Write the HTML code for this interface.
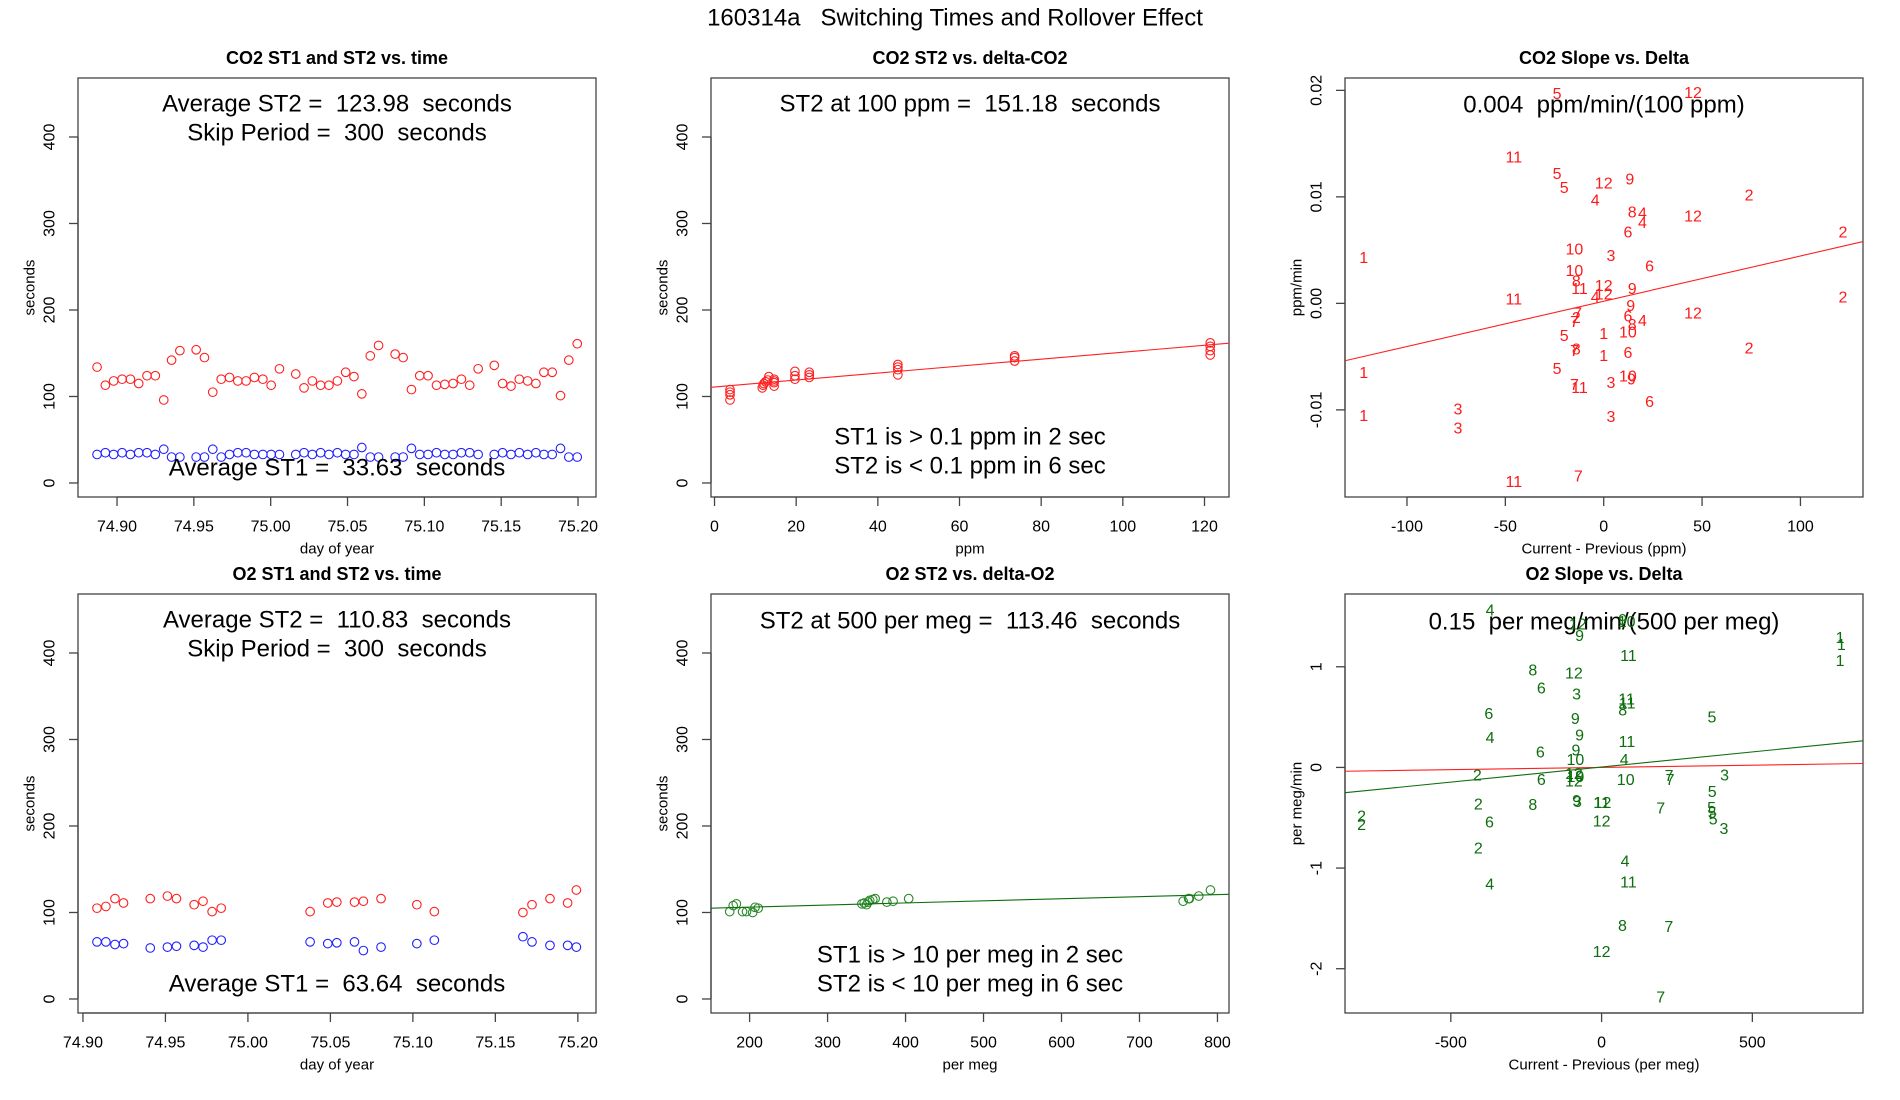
<!DOCTYPE html>
<html><head><meta charset="utf-8"><title>160314a Switching Times and Rollover Effect</title>
<style>
html,body{margin:0;padding:0;background:#fff;}
svg{display:block;font-family:"Liberation Sans",Arial,sans-serif;}
</style></head>
<body>
<svg id="fig" xmlns="http://www.w3.org/2000/svg" width="1900" height="1100" viewBox="0 0 1900 1100">
<rect x="0" y="0" width="1900" height="1100" fill="#fff"/>
<text x="955" y="18" font-size="24" text-anchor="middle" dominant-baseline="central" style="white-space:pre">160314a   Switching Times and Rollover Effect</text>
</svg>
<script>
// ---------- Panel 1: CO2 ST1/ST2 vs time ----------
const co2Times = [74.8870,74.8924,74.8978,74.9033,74.9087,74.9141,74.9195,74.9249,74.9304,74.9355,74.9409,74.9515,74.9569,74.9623,74.9678,74.9732,74.9786,74.9840,74.9894,74.9949,75.0003,75.0057,75.0163,75.0217,75.0271,75.0325,75.0379,75.0434,75.0488,75.0542,75.0593,75.0648,75.0702,75.0810,75.0862,75.0916,75.0970,75.1024,75.1079,75.1133,75.1187,75.1241,75.1295,75.1350,75.1455,75.1509,75.1564,75.1618,75.1672,75.1726,75.1778,75.1832,75.1886,75.1940,75.1995];
const co2ST2 = [134,113,118,120,120,115,124,124,96,142,153,154,145,105,120,122,118,118,122,120,113,132,126,110,118,113,113,118,128,123,103,147,159,149,145,108,124,124,113,114,115,120,113,132,136,115,112,120,118,115,128,128,101,142,161];
const co2ST1 = [33,35,33,35,33,35,35,33,39,30,30,30,30,39,30,33,35,35,33,33,33,33,33,35,33,35,33,35,33,33,41,30,30,30,30,40,33,33,35,33,33,35,35,33,33,35,33,35,33,35,33,33,40,30,30];
const timeTicks = [74.90,74.95,75.00,75.05,75.10,75.15,75.20];
const timeTickLabels = ["74.90","74.95","75.00","75.05","75.10","75.15","75.20"];
const secTicks = [0,100,200,300,400];
const secTickLabels = ["0","100","200","300","400"];

// ---------- Panel 2: CO2 ST2 vs delta ----------
const co2Delta = [3.8,3.8,3.8,3.8,11.7,11.9,12.1,12.5,13.3,13.0,14.6,14.6,14.6,14.6,19.7,19.7,19.7,23.2,23.2,23.2,44.9,44.9,44.9,44.9,73.5,73.5,73.5,121.4,121.4,121.4,121.4];
const co2DeltaST2 = [108,105,102,96,110,113,115,117,123,119,120,116,112,118,129,124,120,128,125,122,137,134,131,125,147,145,141,162,158,153,148];
const co2FitLine = [111.0, 0.4018]; // intercept, slope
const ppmTicks = [0,20,40,60,80,100,120];
const ppmTickLabels = ["0","20","40","60","80","100","120"];

// ---------- Panel 3: CO2 slope vs delta ----------
const co2SlopeX = [-23.7,45.4,-45.7,-23.7,-20.1,0,13.3,-4.3,73.9,14.5,19.7,19.7,45.4,12.3,121.6,-14.9,3.7,-122,23.3,-14.9,-13.9,-12.3,0,0,-4.3,14.5,-45.7,121.6,13.7,45.4,-13.3,-13.9,-14.9,12.3,19.7,14.5,12.3,0,-20.1,73.9,-14.9,-13.9,12.3,0,-23.7,-122,12.3,14.1,3.7,-14.9,-12.3,23.3,-122,-74.1,-74.1,3.7,-12.9,-45.7];
const co2SlopeY = [0.0196,0.0197,0.01365,0.0121,0.0108,0.0112,0.0116,0.0096,0.0101,0.0085,0.0084,0.0075,0.0081,0.0066,0.0066,0.0050,0.0044,0.0042,0.0034,0.0030,0.0020,0.0013,0.0016,0.0008,0.0005,0.0013,0.0003,0.0005,-0.0003,-0.0010,-0.0010,-0.0014,-0.0018,-0.0013,-0.0017,-0.0021,-0.0028,-0.0029,-0.0031,-0.0043,-0.0045,-0.0044,-0.0047,-0.0050,-0.0062,-0.0066,-0.0069,-0.0072,-0.0075,-0.0077,-0.0080,-0.0093,-0.0106,-0.0100,-0.0118,-0.0107,-0.0163,-0.0168];
const co2SlopeLabels = ["5","12","11","5","5","12","9","4","2","8","4","4","12","6","2","10","3","1","6","10","8","11","12","12","4","9","11","2","9","12","7","2","7","6","4","8","10","1","5","2","7","8","6","1","5","1","10","9","3","7","11","6","1","3","3","3","7","11"];
const co2SlopeFit = [0.0002, 0.0000425];
const dppmTicks = [-100,-50,0,50,100];
const dppmTickLabels = ["-100","-50","0","50","100"];
const slopeTicks = [-0.01,0,0.01,0.02];
const slopeTickLabels = ["-0.01","0.00","0.01","0.02"];

// ---------- Panel 4: O2 ST1/ST2 vs time ----------
const o2Times = [74.9085,74.9139,74.9194,74.9246,74.9408,74.9512,74.9567,74.9674,74.9728,74.9783,74.9838,75.0377,75.0484,75.0539,75.0646,75.0700,75.0807,75.1024,75.1130,75.1667,75.1722,75.1831,75.1938,75.1991];
const o2ST2 = [105,107,116,111,116,119,116,109,113,101,105,101,111,112,112,113,116,109,101,100,109,116,111,126];
const o2ST1 = [66,66,63,64,59,60,61,62,60,68,68,66,64,65,66,56,60,64,68,72,66,62,62,60];

// ---------- Panel 5: O2 ST2 vs delta ----------
const o2Delta = [174.5,179,183,191,196,204,207,211,344,347,350,352,354,358,361,376,384,404,756,763,764,776,791];
const o2DeltaST2 = [101,108,110,101,101,100,106,105,110,111,109,112,114,115,116,112,113,116,113,116,116,119,126];
const o2FitLine = [101.4, 0.0241];
const permegTicks = [200,300,400,500,600,700,800];
const permegTickLabels = ["200","300","400","500","600","700","800"];

// ---------- Panel 6: O2 slope vs delta ----------
const o2SlopeX = [-370,-79,-73,70,83,791,795,791,89,-228,-92,-200,-83,83,85,70,-374,-87,366,-370,-73,84,-203,-85,-87,75,-412,-92,-87,-92,-73,-200,80,224,227,408,367,-409,-228,-83,-80,0,3,196,365,367,370,406,-796,-796,-372,0,-409,78,-371,89,69,223,0,196];
const o2SlopeY = [1.555,1.415,1.30,1.46,1.44,1.28,1.21,1.05,1.10,0.96,0.93,0.78,0.72,0.67,0.63,0.56,0.525,0.475,0.49,0.286,0.31,0.25,0.143,0.163,0.07,0.07,-0.086,-0.07,-0.10,-0.146,-0.096,-0.13,-0.13,-0.09,-0.13,-0.083,-0.25,-0.372,-0.379,-0.34,-0.35,-0.36,-0.36,-0.415,-0.41,-0.46,-0.52,-0.615,-0.495,-0.578,-0.55,-0.54,-0.81,-0.94,-1.17,-1.15,-1.58,-1.59,-1.84,-2.29];
const o2SlopeLabels = ["4","12","9","9","10","1","1","1","11","8","12","6","3","11","11","8","6","9","5","4","9","11","6","9","10","4","2","12","10","12","9","6","10","7","7","3","5","2","8","9","3","11","12","7","5","5","5","3","2","2","6","12","2","4","4","11","8","7","12","7"];
const o2SlopeFit = [0.004, 0.0003];
const o2RedFit = [0.0, 0.0000448];
const dpmTicks = [-500,0,500];
const dpmTickLabels = ["-500","0","500"];
const pmSlopeTicks = [-2,-1,0,1];
const pmSlopeTickLabels = ["-2","-1","0","1"];

// ---------- drawing ----------
const NS = "http://www.w3.org/2000/svg";
const svg = document.getElementById("fig");
function el(tag, attrs, parent, txt){
  const e = document.createElementNS(NS, tag);
  for (const k in attrs) e.setAttribute(k, attrs[k]);
  if (txt !== undefined) e.textContent = txt;
  (parent || svg).appendChild(e);
  return e;
}
function scale(d0,d1,r0,r1){ return v => r0 + (v-d0)/(d1-d0)*(r1-r0); }

const RED="#ff2020", BLUE="#2020ff", GREEN="#0d6e0d", GREENPT="#2a8a2a";

function makePanel(name, box, xd, yd, title, xlab, ylab, xt, xtl, yt, ytl){
  const g = el("g", {}, svg);
  
  
  const [L,T,R,B] = box;
  const sx = scale(xd[0],xd[1],L,R), sy = scale(yd[0],yd[1],B,T);
  const t = el("text",{x:(L+R)/2,y:T-20,"font-size":18,"font-weight":"bold","text-anchor":"middle","dominant-baseline":"central"},g,title);
  
  
  const bx = el("rect",{x:L,y:T,width:R-L,height:B-T,fill:"none",stroke:"#444","stroke-width":1.3},g);
  
  
  const xa = el("g",{},g);
  
  
  el("line",{x1:sx(xt[0]),x2:sx(xt[xt.length-1]),y1:B,y2:B,stroke:"#444","stroke-width":1.3},xa);
  xt.forEach((v,i)=>{
    el("line",{x1:sx(v),x2:sx(v),y1:B,y2:B+9,stroke:"#444","stroke-width":1.3},xa);
    const l = el("text",{x:sx(v),y:B+30,"font-size":16,"text-anchor":"middle","dominant-baseline":"central"},xa,xtl[i]);
    
    
  });
  const ya = el("g",{},g);
  
  
  el("line",{x1:L,x2:L,y1:sy(yt[0]),y2:sy(yt[yt.length-1]),stroke:"#444","stroke-width":1.3},ya);
  yt.forEach((v,i)=>{
    el("line",{x1:L-9,x2:L,y1:sy(v),y2:sy(v),stroke:"#444","stroke-width":1.3},ya);
    const cx=L-28, cy=sy(v);
    const l = el("text",{x:cx,y:cy,"font-size":16,"text-anchor":"middle","dominant-baseline":"central",transform:`rotate(-90 ${cx} ${cy})`},ya,ytl[i]);
    
    
  });
  const xl = el("text",{x:(L+R)/2,y:B+52,"font-size":15,"text-anchor":"middle","dominant-baseline":"central"},g,xlab);
  
  
  const ycx=L-48, ycy=(T+B)/2;
  const yl = el("text",{x:ycx,y:ycy,"font-size":15,"text-anchor":"middle","dominant-baseline":"central",transform:`rotate(-90 ${ycx} ${ycy})`},g,ylab);
  
  
  return {g,sx,sy,L,T,R,B,xd,yd};
}
function note(p, y, txt, name){
  const n = el("text",{x:(p.L+p.R)/2,y:y,"font-size":24,"text-anchor":"middle","dominant-baseline":"central",style:"white-space:pre"},p.g,txt);
  
  
}
function circles(p, xs, ys, color, name){
  const g = el("g",{},p.g);
  
  
  xs.forEach((x,i)=>{
    const c = el("circle",{cx:p.sx(x),cy:p.sy(ys[i]),r:4.3,fill:"none",stroke:color,"stroke-width":1.1},g);
    
    
  });
}
function labels(p, xs, ys, ls, color, name){
  const g = el("g",{},p.g);
  
  
  xs.forEach((x,i)=>{
    const t = el("text",{x:p.sx(x),y:p.sy(ys[i]),"font-size":16,fill:color,"text-anchor":"middle","dominant-baseline":"central"},g,ls[i]);
    
    
  });
}
function fit(p, coef, color, name){
  const x0=p.xd[0], x1=p.xd[1];
  const l = el("line",{x1:p.sx(x0),y1:p.sy(coef[0]+coef[1]*x0),x2:p.sx(x1),y2:p.sy(coef[0]+coef[1]*x1),stroke:color,"stroke-width":1.1},p.g);
  
  
}

const C1=[78,596], C2=[711,1229], C3=[1345,1863];
const R1=[78,497], R2=[594,1013];
const secDom=[-16.2,468.2];

// Panel 1
const p1 = makePanel("co2-time-panel",[C1[0],R1[0],C1[1],R1[1]],[74.8746,75.2117],secDom,"CO2 ST1 and ST2 vs. time","day of year","seconds",timeTicks,timeTickLabels,secTicks,secTickLabels);
circles(p1, co2Times, co2ST2, RED, "co2-st2");
circles(p1, co2Times, co2ST1, BLUE, "co2-st1");
note(p1, 104, "Average ST2 =  123.98  seconds", "avg-st2-note");
note(p1, 133, "Skip Period =  300  seconds", "skip-period-note");
note(p1, 468, "Average ST1 =  33.63  seconds", "avg-st1-note");

// Panel 2
const p2 = makePanel("co2-delta-panel",[C2[0],R1[0],C2[1],R1[1]],[-0.86,126.0],secDom,"CO2 ST2 vs. delta-CO2","ppm","seconds",ppmTicks,ppmTickLabels,secTicks,secTickLabels);
circles(p2, co2Delta, co2DeltaST2, RED, "co2-delta-st2");
fit(p2, co2FitLine, "#ff2020", "co2-fit-line");
note(p2, 104, "ST2 at 100 ppm =  151.18  seconds", "st2-at-100-note");
note(p2, 437, "ST1 is > 0.1 ppm in 2 sec", "st1-threshold-note");
note(p2, 466, "ST2 is < 0.1 ppm in 6 sec", "st2-threshold-note");

// Panel 3
const p3 = makePanel("co2-slope-panel",[C3[0],R1[0],C3[1],R1[1]],[-131.5,131.8],[-0.01818,0.02116],"CO2 Slope vs. Delta","Current - Previous (ppm)","ppm/min",dppmTicks,dppmTickLabels,slopeTicks,slopeTickLabels);
fit(p3, co2SlopeFit, "#ff2020", "co2-slope-fit-line");
note(p3, 105, "0.004  ppm/min/(100 ppm)", "co2-slope-note");
labels(p3, co2SlopeX, co2SlopeY, co2SlopeLabels, "#ff1a1a", "co2-slope");

// Panel 4
const p4 = makePanel("o2-time-panel",[C1[0],R2[0],C1[1],R2[1]],[74.897,75.211],secDom,"O2 ST1 and ST2 vs. time","day of year","seconds",timeTicks,timeTickLabels,secTicks,secTickLabels);
circles(p4, o2Times, o2ST2, RED, "o2-st2");
circles(p4, o2Times, o2ST1, BLUE, "o2-st1");
note(p4, 620, "Average ST2 =  110.83  seconds", "o2-avg-st2-note");
note(p4, 649, "Skip Period =  300  seconds", "o2-skip-period-note");
note(p4, 984, "Average ST1 =  63.64  seconds", "o2-avg-st1-note");

// Panel 5
const p5 = makePanel("o2-delta-panel",[C2[0],R2[0],C2[1],R2[1]],[150.5,814.8],secDom,"O2 ST2 vs. delta-O2","per meg","seconds",permegTicks,permegTickLabels,secTicks,secTickLabels);
circles(p5, o2Delta, o2DeltaST2, GREENPT, "o2-delta-st2");
fit(p5, o2FitLine, GREEN, "o2-fit-line");
note(p5, 621, "ST2 at 500 per meg =  113.46  seconds", "st2-at-500-note");
note(p5, 955, "ST1 is > 10 per meg in 2 sec", "o2-st1-threshold-note");
note(p5, 984, "ST2 is < 10 per meg in 6 sec", "o2-st2-threshold-note");

// Panel 6
const p6 = makePanel("o2-slope-panel",[C3[0],R2[0],C3[1],R2[1]],[-851,867],[-2.44,1.723],"O2 Slope vs. Delta","Current - Previous (per meg)","per meg/min",dpmTicks,dpmTickLabels,pmSlopeTicks,pmSlopeTickLabels);
fit(p6, o2RedFit, "#ff2020", "o2-zero-line");
fit(p6, o2SlopeFit, GREEN, "o2-slope-fit-line");
note(p6, 622, "0.15  per meg/min/(500 per meg)", "o2-slope-note");
labels(p6, o2SlopeX, o2SlopeY, o2SlopeLabels, GREEN, "o2-slope");
</script>
</body></html>
